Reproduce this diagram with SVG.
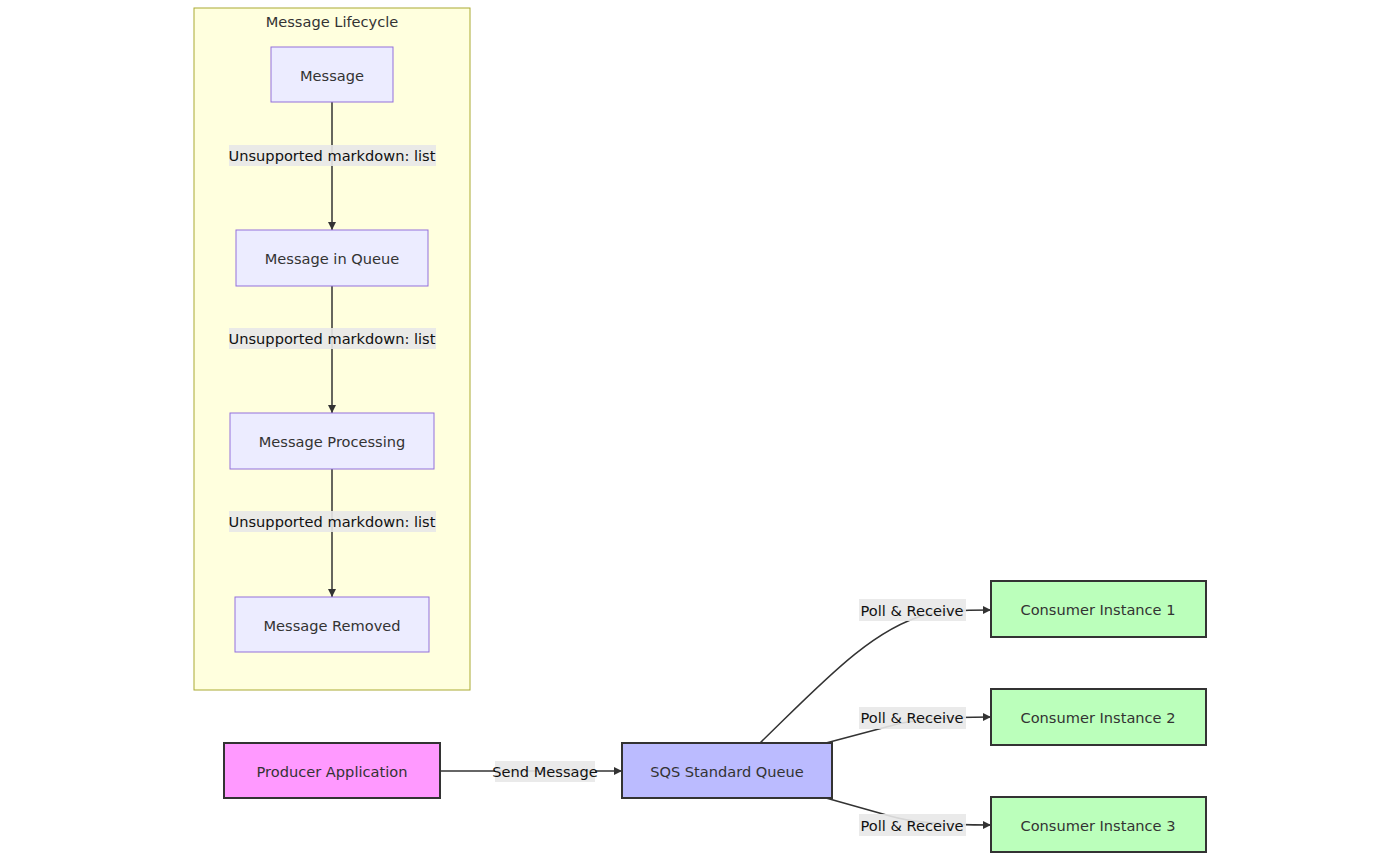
<svg xmlns="http://www.w3.org/2000/svg" width="1400" height="861" viewBox="0 0 1400 861">
<style>
text{font-family:"DejaVu Sans","Liberation Sans",sans-serif;font-size:14.6px;fill:#333;text-anchor:middle;dominant-baseline:central}
.lc{fill:#ECECFF;stroke:#9370DB;stroke-width:1}
.main{stroke:#333;stroke-width:2}
.edge{fill:none;stroke:#333;stroke-width:1.5}
.lbg{fill:#e8e8e8;opacity:0.9}
.lbl{fill:#111}
</style>
<defs>
<marker id="arr" viewBox="0 0 10 10" refX="10" refY="5" markerWidth="8" markerHeight="8" orient="auto" markerUnits="userSpaceOnUse">
<path d="M0,0 L10,5 L0,10 z" fill="#333"/>
</marker>
</defs>
<g id="cluster-lifecycle">
<rect x="194" y="8" width="276" height="682" fill="#ffffde" stroke="#aaaa33" stroke-width="1"/>
<text x="332" y="21">Message Lifecycle</text>
</g>
<g id="connectors">
<path class="edge" d="M332,102 L332,230" marker-end="url(#arr)"/>
<path class="edge" d="M332,286 L332,413" marker-end="url(#arr)"/>
<path class="edge" d="M332,469 L332,597" marker-end="url(#arr)"/>
<path class="edge" d="M440,771 L622,771" marker-end="url(#arr)"/>
<path class="edge" d="M760,743 C820,685 870,630 925,615 C940,611 960,610 991,610" marker-end="url(#arr)"/>
<path class="edge" d="M826,743 L890,726 C910,720 940,717 991,717" marker-end="url(#arr)"/>
<path class="edge" d="M826,798 L890,816 C910,822 940,825 991,825" marker-end="url(#arr)"/>
<rect class="lbg" x="229" y="145" width="207" height="21"/>
<text class="lbl" x="332" y="155">Unsupported markdown: list</text>
<rect class="lbg" x="229" y="328" width="207" height="21"/>
<text class="lbl" x="332" y="338">Unsupported markdown: list</text>
<rect class="lbg" x="229" y="511" width="207" height="21"/>
<text class="lbl" x="332" y="521">Unsupported markdown: list</text>
<rect class="lbg" x="495" y="761" width="100" height="21"/>
<text class="lbl" x="545" y="771">Send Message</text>
<rect class="lbg" x="859" y="599" width="107" height="22"/>
<text class="lbl" x="912" y="610">Poll &amp; Receive</text>
<rect class="lbg" x="859" y="707" width="107" height="22"/>
<text class="lbl" x="912" y="717">Poll &amp; Receive</text>
<rect class="lbg" x="859" y="814" width="107" height="22"/>
<text class="lbl" x="912" y="825">Poll &amp; Receive</text>
</g>
<g id="node-message"><rect class="lc" x="271" y="47" width="122" height="55"/><text x="332" y="75">Message</text></g>
<g id="node-queue-msg"><rect class="lc" x="236" y="230" width="192" height="56"/><text x="332" y="258">Message in Queue</text></g>
<g id="node-processing"><rect class="lc" x="230" y="413" width="204" height="56"/><text x="332" y="441">Message Processing</text></g>
<g id="node-removed"><rect class="lc" x="235" y="597" width="194" height="55"/><text x="332" y="625">Message Removed</text></g>
<g id="node-producer"><rect class="main" x="224" y="743" width="216" height="55" fill="#ff99ff"/><text x="332" y="771">Producer Application</text></g>
<g id="node-sqs"><rect class="main" x="622" y="743" width="210" height="55" fill="#bbbbff"/><text x="727" y="771">SQS Standard Queue</text></g>
<g id="node-c1"><rect class="main" x="991" y="581" width="215" height="56" fill="#bbffbb"/><text x="1098" y="609">Consumer Instance 1</text></g>
<g id="node-c2"><rect class="main" x="991" y="689" width="215" height="56" fill="#bbffbb"/><text x="1098" y="717">Consumer Instance 2</text></g>
<g id="node-c3"><rect class="main" x="991" y="797" width="215" height="55" fill="#bbffbb"/><text x="1098" y="825">Consumer Instance 3</text></g>
</svg>
